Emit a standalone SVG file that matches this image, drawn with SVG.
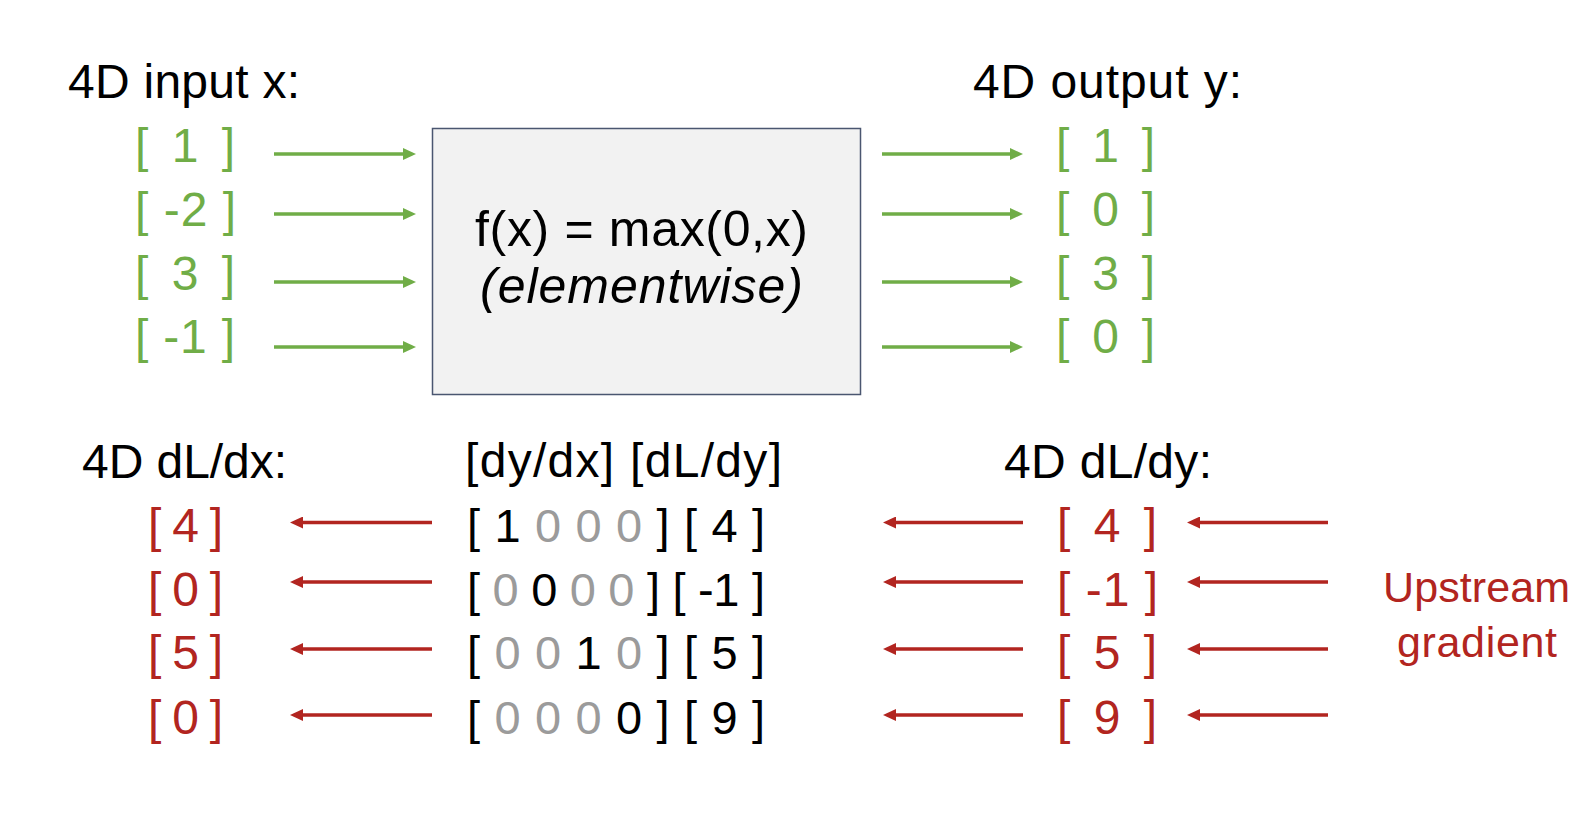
<svg xmlns="http://www.w3.org/2000/svg" width="1586" height="814" viewBox="0 0 1586 814">
  <style>
    text { font-family: "Liberation Sans", Arial, sans-serif; }
    .lbl { font-size: 48px; fill: #000; }
    .g { font-size: 48px; fill: #70AD47; }
    .r { font-size: 48px; fill: #B22520; }
    .m { font-size: 47px; fill: #000; }
    .gr { fill: #9B9B9B; }
    .box-t { font-size: 50px; fill: #000; }
    .ga { stroke: #70AD47; stroke-width: 3.5; fill: none; }
    .ra { stroke: #B22520; stroke-width: 3.5; fill: none; }
  </style>
  <defs>
    <marker id="ahG" markerUnits="userSpaceOnUse" markerWidth="13" markerHeight="12" viewBox="0 0 13 12" refX="4" refY="6" orient="auto">
      <path d="M0,0 L13,6 L0,12 z" fill="#70AD47"/>
    </marker>
    <marker id="ahR" markerUnits="userSpaceOnUse" markerWidth="13" markerHeight="12" viewBox="0 0 13 12" refX="4" refY="6" orient="auto">
      <path d="M0,0 L13,6 L0,12 z" fill="#B22520"/>
    </marker>
  </defs>
  <rect width="1586" height="814" fill="#FFFFFF"/>

  <g id="input-x">
    <text class="lbl" x="68" y="98" textLength="232" lengthAdjust="spacing">4D input x:</text>
    <text class="g" x="135" y="162" textLength="100" lengthAdjust="spacing">[ 1 ]</text>
    <text class="g" x="135" y="226" textLength="101" lengthAdjust="spacing">[ -2 ]</text>
    <text class="g" x="135" y="290" textLength="100" lengthAdjust="spacing">[ 3 ]</text>
    <text class="g" x="135" y="353" textLength="100" lengthAdjust="spacing">[ -1 ]</text>
  </g>

  <g id="relu-box">
    <rect x="432.5" y="128.5" width="428" height="266" fill="#F2F2F2" stroke="#4A5670" stroke-width="1.5"/>
    <text class="box-t" x="475" y="246" textLength="333" lengthAdjust="spacing">f(x) = max(0,x)</text>
    <text class="box-t" x="480" y="303" font-style="italic" textLength="323" lengthAdjust="spacing">(elementwise)</text>
  </g>

  <g id="output-y">
    <text class="lbl" x="973" y="98" textLength="269" lengthAdjust="spacing">4D output y:</text>
    <text class="g" x="1056" y="162" textLength="99" lengthAdjust="spacing">[ 1 ]</text>
    <text class="g" x="1056" y="226" textLength="99" lengthAdjust="spacing">[ 0 ]</text>
    <text class="g" x="1056" y="290" textLength="99" lengthAdjust="spacing">[ 3 ]</text>
    <text class="g" x="1056" y="353" textLength="99" lengthAdjust="spacing">[ 0 ]</text>
  </g>

  <g id="dL-dx">
    <text class="lbl" x="82" y="478" textLength="205" lengthAdjust="spacing">4D dL/dx:</text>
    <text class="r" x="148" y="542" textLength="75" lengthAdjust="spacing">[ 4 ]</text>
    <text class="r" x="148" y="606" textLength="75" lengthAdjust="spacing">[ 0 ]</text>
    <text class="r" x="148" y="669" textLength="75" lengthAdjust="spacing">[ 5 ]</text>
    <text class="r" x="148" y="734" textLength="75" lengthAdjust="spacing">[ 0 ]</text>
  </g>

  <g id="local-gradient">
    <text class="lbl" x="465" y="477" textLength="317" lengthAdjust="spacing">[dy/dx] [dL/dy]</text>
    <text class="m" x="467" y="542" textLength="298" lengthAdjust="spacing">[ 1 <tspan class="gr">0 0 0</tspan> ] [ 4 ]</text>
    <text class="m" x="467" y="606" textLength="298" lengthAdjust="spacing">[ <tspan class="gr">0</tspan> 0 <tspan class="gr">0 0</tspan> ] [ -1 ]</text>
    <text class="m" x="467" y="669" textLength="298" lengthAdjust="spacing">[ <tspan class="gr">0 0</tspan> 1 <tspan class="gr">0</tspan> ] [ 5 ]</text>
    <text class="m" x="467" y="734" textLength="298" lengthAdjust="spacing">[ <tspan class="gr">0 0 0</tspan> 0 ] [ 9 ]</text>
  </g>

  <g id="dL-dy">
    <text class="lbl" x="1004" y="478" textLength="208" lengthAdjust="spacing">4D dL/dy:</text>
    <text class="r" x="1057" y="542" textLength="100" lengthAdjust="spacing">[ 4 ]</text>
    <text class="r" x="1057" y="606" textLength="101" lengthAdjust="spacing">[ -1 ]</text>
    <text class="r" x="1057" y="669" textLength="100" lengthAdjust="spacing">[ 5 ]</text>
    <text class="r" x="1057" y="734" textLength="100" lengthAdjust="spacing">[ 9 ]</text>
  </g>

  <g id="upstream-label">
    <text class="r" x="1383" y="602" style="font-size:43px" textLength="187" lengthAdjust="spacing">Upstream</text>
    <text class="r" x="1397" y="657" style="font-size:43px" textLength="160" lengthAdjust="spacing">gradient</text>
  </g>

  <g id="connectors">
    <line class="ga" x1="274" y1="154" x2="407" y2="154" marker-end="url(#ahG)"/>
    <line class="ga" x1="274" y1="214" x2="407" y2="214" marker-end="url(#ahG)"/>
    <line class="ga" x1="274" y1="282" x2="407" y2="282" marker-end="url(#ahG)"/>
    <line class="ga" x1="274" y1="347" x2="407" y2="347" marker-end="url(#ahG)"/>

    <line class="ga" x1="882" y1="154" x2="1014" y2="154" marker-end="url(#ahG)"/>
    <line class="ga" x1="882" y1="214" x2="1014" y2="214" marker-end="url(#ahG)"/>
    <line class="ga" x1="882" y1="282" x2="1014" y2="282" marker-end="url(#ahG)"/>
    <line class="ga" x1="882" y1="347" x2="1014" y2="347" marker-end="url(#ahG)"/>

    <line class="ra" x1="432" y1="522.5" x2="299" y2="522.5" marker-end="url(#ahR)"/>
    <line class="ra" x1="432" y1="582" x2="299" y2="582" marker-end="url(#ahR)"/>
    <line class="ra" x1="432" y1="649" x2="299" y2="649" marker-end="url(#ahR)"/>
    <line class="ra" x1="432" y1="715" x2="299" y2="715" marker-end="url(#ahR)"/>

    <line class="ra" x1="1023" y1="522.5" x2="892" y2="522.5" marker-end="url(#ahR)"/>
    <line class="ra" x1="1023" y1="582" x2="892" y2="582" marker-end="url(#ahR)"/>
    <line class="ra" x1="1023" y1="649" x2="892" y2="649" marker-end="url(#ahR)"/>
    <line class="ra" x1="1023" y1="715" x2="892" y2="715" marker-end="url(#ahR)"/>

    <line class="ra" x1="1328" y1="522.5" x2="1196" y2="522.5" marker-end="url(#ahR)"/>
    <line class="ra" x1="1328" y1="582" x2="1196" y2="582" marker-end="url(#ahR)"/>
    <line class="ra" x1="1328" y1="649" x2="1196" y2="649" marker-end="url(#ahR)"/>
    <line class="ra" x1="1328" y1="715" x2="1196" y2="715" marker-end="url(#ahR)"/>
  </g>
</svg>
